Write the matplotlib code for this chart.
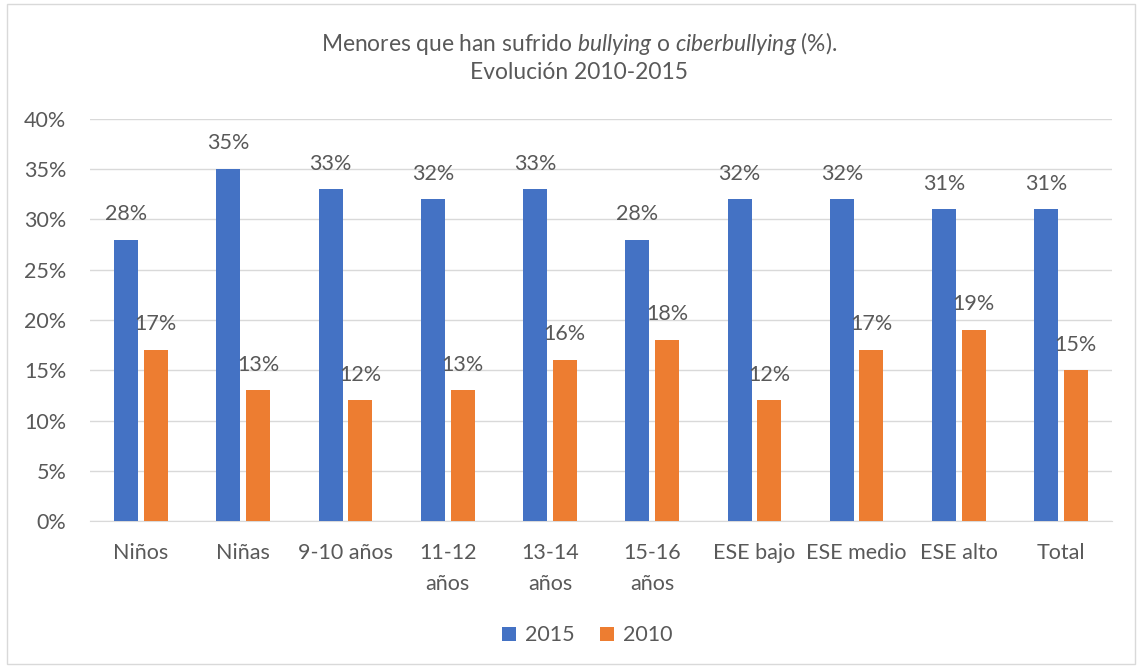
import matplotlib
matplotlib.use("Agg")
import matplotlib.pyplot as plt
import numpy as np
from matplotlib.patches import Rectangle

categories = ["Niños", "Niñas", "9-10 años", "11-12\naños", "13-14\naños",
              "15-16\naños", "ESE bajo", "ESE medio", "ESE alto", "Total"]
v2015 = [28, 35, 33, 32, 33, 28, 32, 32, 31, 31]
v2010 = [17, 13, 12, 13, 16, 18, 12, 17, 19, 15]
yticks = [0, 5, 10, 15, 20, 25, 30, 35, 40]

plt.rcParams['font.family'] = ['Lato', 'DejaVu Sans']
plt.rcParams['mathtext.fontset'] = 'custom'
plt.rcParams['mathtext.rm'] = 'Lato'
plt.rcParams['mathtext.it'] = 'Lato:italic'
txt = '#595959'
blue = '#4472C4'
orange = '#ED7D31'
fs = 15.5

fig = plt.figure(figsize=(11.42, 6.68), dpi=100)
fig.patches.append(Rectangle((0.006, 0.006), 0.988, 0.988, transform=fig.transFigure,
                             fill=False, edgecolor='#D9D9D9', linewidth=1))
ax = fig.add_axes([0.0788, 0.22, 0.8950, 0.602])

x = np.arange(len(categories))
w = 0.235
off = 0.145
b1 = ax.bar(x - off, v2015, w, color=blue, label='2015', zorder=3)
b2 = ax.bar(x + off, v2010, w, color=orange, label='2010', zorder=3)
for bars, vals in ((b1, v2015), (b2, v2010)):
    for r, v in zip(bars, vals):
        ax.annotate(f"{v}%", (r.get_x() + r.get_width() / 2, v), xytext=(0, 18.5),
                    textcoords='offset points', ha='center', va='center',
                    fontsize=fs, color=txt)

ax.set_xlim(-0.5, len(categories) - 0.5)
ax.set_ylim(0, 40)
ax.set_yticks(yticks)
ax.set_yticklabels([f"{t}%" for t in yticks])
ax.set_xticks(x)
ax.set_xticklabels(categories, linespacing=1.65)
ax.tick_params(axis='both', length=0, labelsize=fs, labelcolor=txt)
ax.tick_params(axis='x', pad=16)
ax.tick_params(axis='y', pad=17)
ax.grid(axis='y', color='#D9D9D9', linewidth=1, zorder=0)
for s in ['top', 'right', 'left']:
    ax.spines[s].set_visible(False)
ax.spines['bottom'].set_color('#D9D9D9')

fig.text(0.507, 0.935, "Menores que han sufrido $\\it{bullying}$ o $\\it{ciberbullying}$ (%).",
         ha='center', va='center', fontsize=16.4, color=txt)
fig.text(0.507, 0.891, "Evolución 2010-2015", ha='center', va='center', fontsize=16.4, color=txt)

leg = fig.legend(handles=[b1, b2], loc='center', bbox_to_anchor=(0.514, 0.049), ncol=2,
                 frameon=False, fontsize=fs, handlelength=0.65, handleheight=0.65,
                 handletextpad=0.4, columnspacing=1.2)
for t in leg.get_texts():
    t.set_color(txt)

fig.savefig("out.png", dpi=100)
